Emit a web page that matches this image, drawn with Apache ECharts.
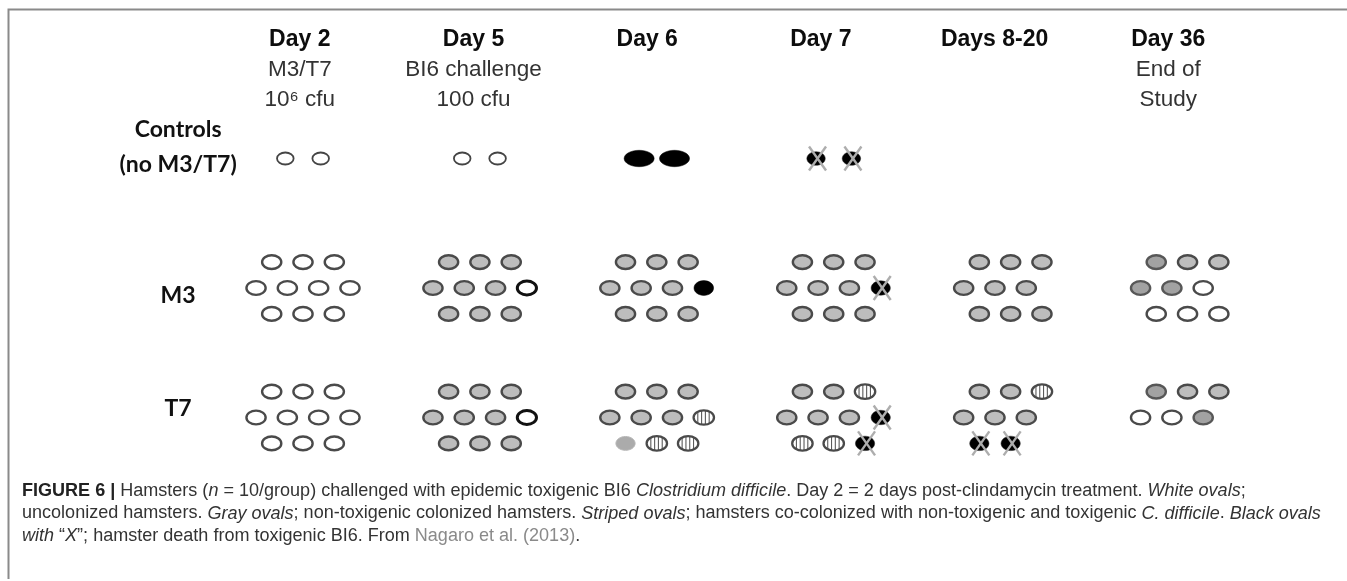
<!DOCTYPE html>
<html><head><meta charset="utf-8">
<script src="https://cdn.jsdelivr.net/npm/echarts@6/dist/echarts.min.js"></script>
<style>html,body{margin:0;padding:0;background:#fff}#chart{width:1347px;height:581px}</style>
</head><body><div id="chart"></div>
<script>
// ---------------- data ----------------
const days = ['Day 2', 'Day 5', 'Day 6', 'Day 7', 'Days 8-20', 'Day 36'];
const dayNotes = [['M3/T7', '10\u2076 cfu'], ['BI6 challenge', '100 cfu'], [], [], [], ['End of', 'Study']];
const groups = [['Controls', '(no M3/T7)'], ['M3'], ['T7']];
// Hamster state per oval, one string per row of ovals in a cell.
// W uncolonized (white), G non-toxigenic colonized (gray), D darker gray, O white with heavy rim,
// L pale gray, S striped (co-colonized), B black (sick), X black with "X" (dead), '.' empty slot
const controlsStates = [['WW'], ['WW'], ['BB'], ['XX'], [], []];
const m3States = [
  ['WWW', 'WWWW', 'WWW'], ['GGG', 'GGGO', 'GGG'], ['GGG', 'GGGB', 'GGG'],
  ['GGG', 'GGGX', 'GGG'], ['GGG', 'GGG.', 'GGG'], ['DGG', 'DDW.', 'WWW']
];
const t7States = [
  ['WWW', 'WWWW', 'WWW'], ['GGG', 'GGGO', 'GGG'], ['GGG', 'GGGS', 'LSS'],
  ['GGS', 'GGGX', 'SSX'], ['GGS', 'GGG.', 'XX.'], ['DGG', 'WWD.']
];
const captionLines = [
  '{b|FIGURE 6 |} {r|Hamsters (}{i|n}{r| = 10/group) challenged with epidemic toxigenic BI6 }{i|Clostridium difficile}{r|. Day 2 = 2 days post-clindamycin treatment. }{i|White ovals}{r|;}',
  '{r|uncolonized hamsters. }{i|Gray ovals}{r|; non-toxigenic colonized hamsters. }{i|Striped ovals}{r|; hamsters co-colonized with non-toxigenic and toxigenic }{i|C. difficile}{r|. }{i|Black ovals}',
  '{i|with}{r| \u201c}{i|X}{r|\u201d; hamster death from toxigenic BI6. From }{l|Nagaro et al. (2013)}{r|.}'
];

// ---------------- layout / style ----------------
const SLOT = 0.177;          // horizontal spacing of ovals, in column units
const CONTROL_SLOT = 0.2;    // wider spacing in the controls row
const ROW = 0.2;             // vertical spacing of oval rows, in group units
const STATE_KEYS = ['W', 'G', 'D', 'O', 'L', 'S', 'B', 'X'];
const OUT = '#4a4a4a';
const STYLE = {
  W: {rx: 9.6, ry: 6.9, fill: '#ffffff', stroke: OUT, lw: 2.4},
  G: {rx: 9.6, ry: 6.9, fill: '#bdbdbd', stroke: OUT, lw: 2.4},
  D: {rx: 9.6, ry: 6.9, fill: '#a2a2a2', stroke: '#575757', lw: 2.4},
  O: {rx: 9.6, ry: 6.9, fill: '#ffffff', stroke: '#111111', lw: 3},
  L: {rx: 9.6, ry: 6.9, fill: '#ababab', stroke: '#b8b8b8', lw: 1},
  S: {rx: 10.2, ry: 7.2, fill: '#ffffff', stroke: OUT, lw: 2.3},
  B: {rx: 9.8, ry: 7.4, fill: '#000000', stroke: '#000000', lw: 0.5},
  X: {rx: 9.6, ry: 7.2, fill: '#000000', stroke: '#222222', lw: 0.5}
};
const CONTROL_STYLE = {
  W: {rx: 8.3, ry: 6.0, lw: 1.8, stroke: '#444444'},
  B: {rx: 15, ry: 8.2},
  X: {rx: 9.2, ry: 6.8}
};
const LABEL_NUDGE = ['up', 'down', 'up2'];
const FONT = '"Liberation Sans", Arial, sans-serif';
const LFONT = 'Lato, "Open Sans", sans-serif';
const CAP = 18.05;

// ---------------- build marks from data ----------------
const allStates = [controlsStates, m3States, t7States];
const ovals = [];
allStates.forEach((cells, gi) => {
  const nRows = Math.max(...cells.map(c => c.length));
  const slot = gi === 0 ? CONTROL_SLOT : SLOT;
  cells.forEach((rows, di) => {
    rows.forEach((rowStr, ri) => {
      const n = rowStr.length;
      for (let k = 0; k < n; k++) {
        const ch = rowStr[k];
        if (ch === '.') continue;
        const x = di + (k - (n - 1) / 2) * slot;
        const y = gi + (ri - (nRows - 1) / 2) * ROW;
        ovals.push([x, y, STATE_KEYS.indexOf(ch), gi]);
      }
    });
  });
});

function renderItem(params, api) {
  const c = api.coord([api.value(0), api.value(1)]);
  const st = STATE_KEYS[api.value(2)];
  const g = api.value(3);
  const s = Object.assign({}, STYLE[st], g === 0 ? (CONTROL_STYLE[st] || {}) : {});
  const cx = c[0], cy = c[1];
  const kids = [{type: 'ellipse', shape: {cx, cy, rx: s.rx, ry: s.ry},
    style: {fill: s.fill, stroke: st === 'S' ? null : s.stroke, lineWidth: s.lw}}];
  if (st === 'S') {
    [-6, -2.2, 1.6, 5.4].forEach(dx => {
      const h = s.ry * Math.sqrt(Math.max(0, 1 - (dx / s.rx) * (dx / s.rx)));
      kids.push({type: 'line', shape: {x1: cx + dx, y1: cy - h, x2: cx + dx, y2: cy + h},
        style: {stroke: '#5a5a5a', lineWidth: 1.1}});
    });
    kids.push({type: 'ellipse', shape: {cx, cy, rx: s.rx, ry: s.ry},
      style: {fill: null, stroke: s.stroke, lineWidth: s.lw}});
  }
  if (st === 'X') {
    const ox = 1.5;
    kids.push({type: 'line', shape: {x1: cx + ox - 8.5, y1: cy - 12, x2: cx + ox + 8.5, y2: cy + 12},
      style: {stroke: '#adadad', lineWidth: 2.4}});
    kids.push({type: 'line', shape: {x1: cx + ox + 8.5, y1: cy - 12, x2: cx + ox - 8.5, y2: cy + 12},
      style: {stroke: '#adadad', lineWidth: 2.4}});
  }
  return {type: 'group', children: kids};
}

const hidden = {axisLine: {show: false}, axisTick: {show: false}, splitLine: {show: false}};
const chart = echarts.init(document.getElementById('chart'), null, {renderer: 'canvas'});
chart.setOption({
  backgroundColor: '#ffffff',
  animation: false,
  grid: {left: 126.1, right: 71, top: 29, bottom: 34, containLabel: false},
  xAxis: [
    Object.assign({type: 'value', position: 'bottom', min: -1, max: 5.5, interval: 1,
      axisLabel: {show: false}}, hidden),
    Object.assign({type: 'value', position: 'top', min: -1, max: 5.62, interval: 1,
      axisLabel: {
        show: true, margin: 4, verticalAlign: 'top', align: 'center', fontFamily: FONT,
        formatter: v => {
          const i = Math.round(v);
          if (Math.abs(i - v) > 1e-6 || !days[i]) return '';
          return ['{b|' + days[i] + '}'].concat(dayNotes[i].map(t => '{r|' + t + '}')).join('\n');
        },
        rich: {
          b: {fontFamily: FONT, fontWeight: 'bold', fontSize: 23, color: '#0d0d0d', lineHeight: 30, align: 'center'},
          r: {fontFamily: FONT, fontSize: 22.5, color: '#333333', lineHeight: 30, align: 'center'}
        }
      }}, hidden)
  ],
  yAxis: Object.assign({
    type: 'value', inverse: true, min: -1, max: 3, interval: 1,
    axisLabel: {
      show: true, margin: -52, align: 'center', fontFamily: LFONT,
      formatter: v => {
        const i = Math.round(v);
        if (Math.abs(i - v) > 1e-6 || !groups[i]) return '';
        return groups[i].map(t => '{' + LABEL_NUDGE[i] + '|' + t + '}').join('\n');
      },
      rich: {
        up: {fontFamily: LFONT, fontWeight: 'bold', fontSize: 23, color: '#111', lineHeight: 35, padding: [0, 0, 22, 0]},
        down: {fontFamily: LFONT, fontWeight: 'bold', fontSize: 23, color: '#111', lineHeight: 35, padding: [16, 0, 0, 0]},
        up2: {fontFamily: LFONT, fontWeight: 'bold', fontSize: 23, color: '#111', lineHeight: 35, padding: [0, 0, 18, 0]}
      }
    }
  }, hidden),
  title: captionLines.map((t, k) => ({
    text: t, left: 22, top: 480 + k * 22.5, padding: 0,
    textStyle: {
      fontFamily: FONT, fontSize: CAP, color: '#333333', fontWeight: 'normal', lineHeight: 22,
      rich: {
        b: {fontFamily: FONT, fontSize: CAP, fontWeight: 'bold', color: '#222222'},
        r: {fontFamily: FONT, fontSize: CAP, color: '#333333'},
        i: {fontFamily: FONT, fontSize: CAP, fontStyle: 'italic', color: '#333333'},
        l: {fontFamily: FONT, fontSize: CAP, color: '#8a8a8a'}
      }
    }
  })),
  graphic: [{
    type: 'polyline', silent: true,
    shape: {points: [[1347, 9.5], [8.5, 9.5], [8.5, 579]]},
    style: {stroke: '#8a8a8a', lineWidth: 2, fill: null}
  }],
  series: [{
    type: 'custom', coordinateSystem: 'cartesian2d', xAxisIndex: 0, yAxisIndex: 0, silent: true,
    renderItem: renderItem, data: ovals, clip: false
  }]
});
</script></body></html>
